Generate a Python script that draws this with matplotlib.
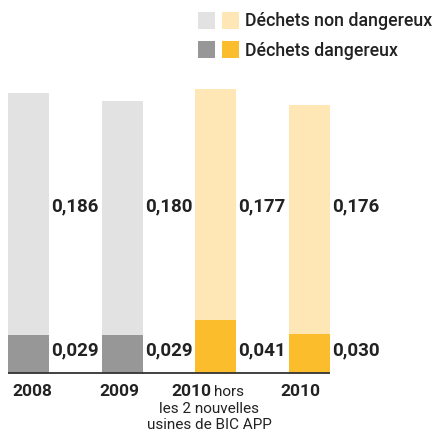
import matplotlib
matplotlib.use("Agg")
import matplotlib.pyplot as plt
from matplotlib.patches import Rectangle

# Déchets par tonne produite
categories = ["2008", "2009", "2010", "2010"]
dangereux = [0.029, 0.029, 0.041, 0.030]
non_dangereux = [0.186, 0.180, 0.177, 0.176]
val_dangereux = ["0,029", "0,029", "0,041", "0,030"]
val_non_dangereux = ["0,186", "0,180", "0,177", "0,176"]

gris_clair, gris_fonce = "#e2e2e2", "#979797"
jaune_clair, jaune = "#fee7b5", "#fbbd2b"
texte = "#222222"

plt.rcParams["font.family"] = ["Roboto", "DejaVu Sans"]

W, H = 433, 431
fig = plt.figure(figsize=(W / 100, H / 100), dpi=100)
ax = fig.add_axes([0, 0, 1, 1])
ax.axis("off")

px = 93.67          # pixels par catégorie
py = 1302.0         # pixels par unité
ax.set_xlim(-28.5 / px, (W - 28.5) / px)
ax.set_ylim(-57 / py, 374 / py)

x = list(range(len(categories)))
w = 41 / px
bas = [gris_fonce, gris_fonce, jaune, jaune]
haut = [gris_clair, gris_clair, jaune_clair, jaune_clair]

ax.bar(x, dangereux, width=w, color=bas, linewidth=0)
ax.bar(x, non_dangereux, width=w, bottom=dangereux, color=haut, linewidth=0)
ax.hlines(0, x[0] - w / 2, x[-1] + w / 2, color="#333333", linewidth=1.3)

for i in x:
    ax.text(i + w / 2 + 2 / px, 24 / py, val_dangereux[i], ha="left", va="center",
            fontsize=13.5, fontweight="bold", color=texte)
    ax.text(i + w / 2 + 2 / px, 168 / py, val_non_dangereux[i], ha="left", va="center",
            fontsize=13.5, fontweight="bold", color=texte)

# étiquettes sous l'axe
decal = [3.5, -2.5, -23, -9.5]
for i, lab in enumerate(categories):
    if i == 2:
        continue
    ax.text(i + decal[i] / px, -18 / py, lab, ha="center", va="center",
            fontsize=12.5, fontweight="bold", color=texte)
ax.text(2 - 4.5 / px, -18 / py, "2010", ha="right", va="center",
        fontsize=12.5, fontweight="bold", color=texte)
ax.text(2 - 2 / px, -18.5 / py, "hors", ha="left", va="center",
        fontsize=11, color=texte)
ax.text(2 - 6.5 / px, -35 / py, "les 2 nouvelles", ha="center", va="center",
        fontsize=11, color=texte)
ax.text(2 - 6.5 / px, -51 / py, "usines de BIC APP", ha="center", va="center",
        fontsize=11, color=texte)

# légende
legende = [("Déchets non dangereux", gris_clair, jaune_clair, 13),
           ("Déchets dangereux", gris_fonce, jaune, 42)]
for lab, c1, c2, top in legende:
    for x0, c in ((198, c1), (222, c2)):
        fig.patches.append(Rectangle((x0 / W, 1 - (top + 17) / H), 17 / W, 17 / H,
                                     transform=fig.transFigure, facecolor=c,
                                     edgecolor="none"))
    fig.text(245 / W, 1 - (top + 8.5) / H, lab, ha="left", va="center",
             fontsize=12.8, fontweight="medium", color=texte)

fig.savefig("out.png", dpi=100)
